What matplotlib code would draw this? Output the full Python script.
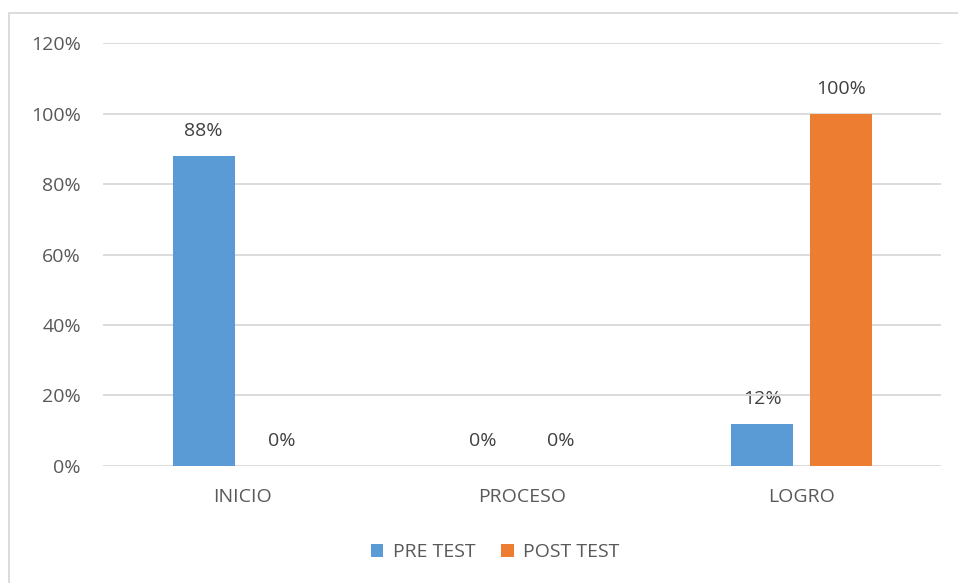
import matplotlib.pyplot as plt
import numpy as np
from matplotlib.patches import Rectangle

categorias = ["INICIO", "PROCESO", "LOGRO"]
pre_test = [88, 0, 12]
post_test = [0, 0, 100]
series = ["PRE TEST", "POST TEST"]
yticks = [0, 20, 40, 60, 80, 100, 120]

plt.rcParams['font.family'] = ['Open Sans', 'DejaVu Sans']
gris = "#595959"
fs = 14

fig = plt.figure(figsize=(9.58, 5.83), dpi=100)
ax = fig.add_axes([0.1075, 0.2007, 0.875, 0.7255])

x = np.arange(len(categorias))
w = 0.222
off = 0.14
b1 = ax.bar(x - off, pre_test, w, color="#5B9BD5", label=series[0], zorder=2)
b2 = ax.bar(x + off, post_test, w, color="#ED7D31", label=series[1], zorder=2)

for bars, vals in ((b1, pre_test), (b2, post_test)):
    for b, v in zip(bars, vals):
        ax.annotate(f"{v}%", (b.get_x() + b.get_width() / 2, v),
                    xytext=(0, 18), textcoords="offset points",
                    ha="center", va="center", fontsize=fs, color="#404040", zorder=0.5)

for t in yticks:
    ax.axhline(t, color="#D9D9D9", lw=1.3, zorder=1)

ax.set_xlim(-0.5, 2.5)
ax.set_ylim(0, 120)
ax.set_yticks(yticks)
ax.set_yticklabels([f"{t}%" for t in yticks], fontsize=fs, color=gris)
ax.set_xticks(x)
ax.set_xticklabels(categorias, fontsize=fs, color=gris)
ax.tick_params(length=0)
ax.tick_params(axis="y", pad=16)
ax.tick_params(axis="x", pad=16)
for s in ax.spines.values():
    s.set_visible(False)

fig.legend(loc="center", bbox_to_anchor=(0.517, 0.053), ncol=2, frameon=False,
           fontsize=fs, labelcolor=gris, handlelength=0.65, handleheight=0.65,
           handletextpad=0.5, columnspacing=1.3)

fig.patches.append(Rectangle((9 / 958, -0.1), 1.1, 1 - 13 / 583 + 0.1,
                             transform=fig.transFigure, fill=False,
                             edgecolor="#D9D9D9", lw=1.3))

fig.savefig("out.png", dpi=100)
